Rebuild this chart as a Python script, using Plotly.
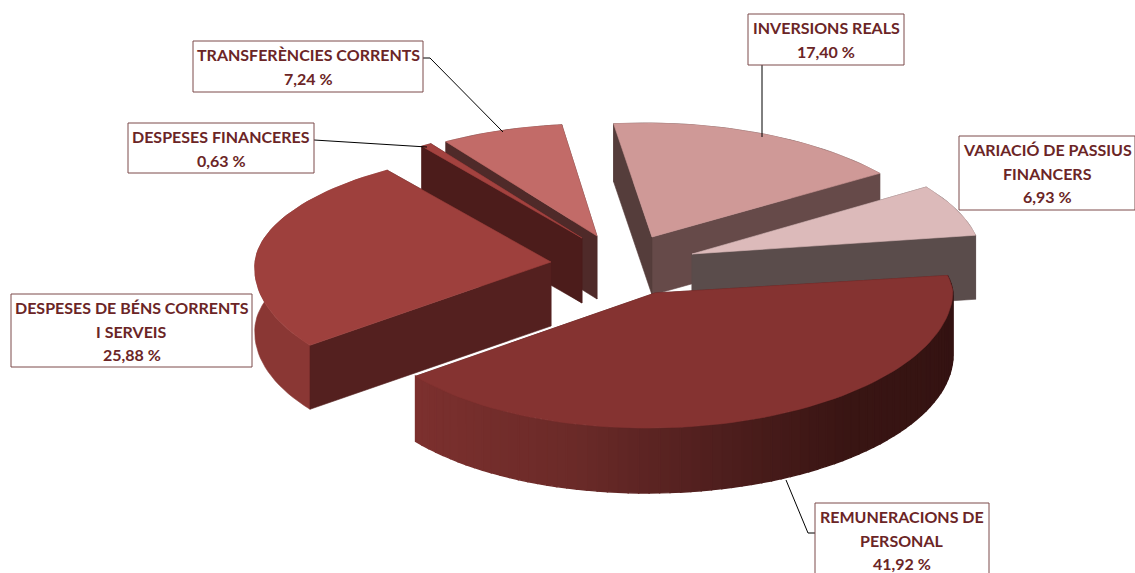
import math
import plotly.graph_objects as go

# ---- data ----
categories = [["REMUNERACIONS DE", "PERSONAL"], ["DESPESES DE BÉNS CORRENTS", "I SERVEIS"],
              ["DESPESES FINANCERES"], ["TRANSFERÈNCIES CORRENTS"],
              ["INVERSIONS REALS"], ["VARIACIÓ DE PASSIUS", "FINANCERS"]]
values = [41.92, 25.88, 0.63, 7.24, 17.40, 6.93]

# ---- styling / layout ----
START = -9.0
top_colors = ["#853331", "#9e403d", "#a3423f", "#c26b68", "#cf9997", "#dcbaba"]
wall_first = ["#54201f", "#54201f", "#4c1c1b", "#4f2a29", "#553d3b", "#5a4c4b"]   # radial wall at the slice's start angle
wall_last = ["#54201f", "#4c1c1b", "#4c1c1b", "#4f2a29", "#664a49", "#5a4c4b"]    # radial wall at its end angle
outer_col = [None, "#8a3734", "#4c1c1b", "#4f2a29", "#553d3b", "#5a4c4b"]
# painting sequence of the parts of each slice: f=first wall, l=last wall, o=outer wall
sequence = ["flo", "lof", "olf", "olf", "olf", "fol"]
apex = [(655, 293), (551, 262), (582, 238), (597, 236), (652, 237), (692, 254)]
radius_x = [298, 296, 284, 284, 286, 289]
radius_y_back = [112, 112, 112, 112, 114, 120]
skew_front = [-8, -13, 0, 0, 0, 0]
skew_back = [0, 0, -4, -4, -7, 0]
depth = [65, 64, 65, 63, 58, 64]
big_stops = [(0, (124, 48, 46)), (.3, (106, 42, 40)), (.55, (80, 31, 30)), (.8, (57, 21, 19)), (1, (52, 19, 18))]
draw_order = [4, 5, 3, 2, 1, 0]
boxes = [(815, 503, 989, 580), (11, 294, 252, 367), (128, 123, 314, 173),
         (193, 41, 423, 92), (748, 14, 904, 65), (959, 136, 1135, 210)]
leaders = [[(786, 480), (808, 533), (815, 533)], None, [(314, 140), (427, 147)],
           [(423, 58), (430, 58), (503, 132)], [(762, 65), (762, 137)], None]


def point(k, t):
    s = math.sin(math.radians(t))
    c = math.cos(math.radians(t))
    ry = 135 if s > 0 else radius_y_back[k]
    rx = radius_x[k] - 12 * max(0, -s)
    skew = skew_front[k] * max(0, s) + skew_back[k] * max(0, -s)
    return apex[k][0] + rx * c + skew, apex[k][1] + ry * s


def grad(f):
    for (a, ca), (b, cb) in zip(big_stops, big_stops[1:]):
        if f <= b:
            w = (f - a) / (b - a)
            r = [round(x + (y - x) * w) for x, y in zip(ca, cb)]
            return f"rgb({r[0]},{r[1]},{r[2]})"
    return "rgb(52,19,18)"


fig = go.Figure()


def poly(pts, color, width=0.6):
    xs = [p[0] for p in pts] + [pts[0][0]]
    ys = [p[1] for p in pts] + [pts[0][1]]
    fig.add_trace(go.Scatter(x=xs, y=ys, mode="lines", fill="toself", fillcolor=color,
                             line=dict(color=color, width=width), hoverinfo="skip", showlegend=False))


total = sum(values)
starts = []
a = START
for v in values:
    starts.append(a)
    a += v / total * 360

for k in draw_order:
    t0 = starts[k]
    t1 = t0 + values[k] / total * 360
    d = depth[k]
    P = apex[k]
    n = max(2, int((t1 - t0) / 2))
    ts = [t0 + (t1 - t0) * i / n for i in range(n + 1)]
    arc = [point(k, t) for t in ts]
    for part in sequence[k]:
        if part == "f":
            e = arc[0]
            poly([P, e, (e[0], e[1] + d), (P[0], P[1] + d)], wall_first[k])
        elif part == "l":
            e = arc[-1]
            poly([P, e, (e[0], e[1] + d), (P[0], P[1] + d)], wall_last[k])
        elif k == 0:
            for i in range(n):
                p, q = arc[i], arc[i + 1]
                col = grad(max(0, min(1, ((p[0] + q[0]) / 2 - 415) / 538)))
                poly([p, q, (q[0], q[1] + d), (p[0], p[1] + d)], col, 1.4)
        else:
            poly(arc + [(x, y + d) for x, y in reversed(arc)], outer_col[k])
    poly([P] + arc, top_colors[k])

# leader lines
for pts in leaders:
    if pts:
        fig.add_trace(go.Scatter(x=[p[0] for p in pts], y=[p[1] for p in pts], mode="lines",
                                 line=dict(color="#000000", width=1), hoverinfo="skip", showlegend=False))

shapes = []
annotations = []
for k, (x0, y0, x1, y1) in enumerate(boxes):
    shapes.append(dict(type="rect", xref="x", yref="y", x0=x0, y0=y0, x1=x1, y1=y1,
                       line=dict(color="#7d4a4a", width=1), fillcolor="#ffffff"))
    lines = categories[k] + [f"{values[k]:.2f}".replace(".", ",") + " %"]
    for i, line in enumerate(lines):
        annotations.append(dict(xref="x", yref="y", x=(x0 + x1) / 2, y=y0 + 13.5 + 23.5 * i,
                                text="<b>" + line + "</b>", showarrow=False,
                                font=dict(family="Lato", size=16, color="#6b2526")))

fig.update_layout(width=1135, height=573, margin=dict(l=0, r=0, t=0, b=0),
                  paper_bgcolor="#ffffff", plot_bgcolor="#ffffff", showlegend=False,
                  xaxis=dict(range=[0, 1135], visible=False, fixedrange=True),
                  yaxis=dict(range=[573, 0], visible=False, fixedrange=True),
                  shapes=shapes, annotations=annotations)
fig.write_html("out.html", config={"displayModeBar": False},
               post_script="document.body.style.margin='0';document.documentElement.style.overflow='hidden';")
